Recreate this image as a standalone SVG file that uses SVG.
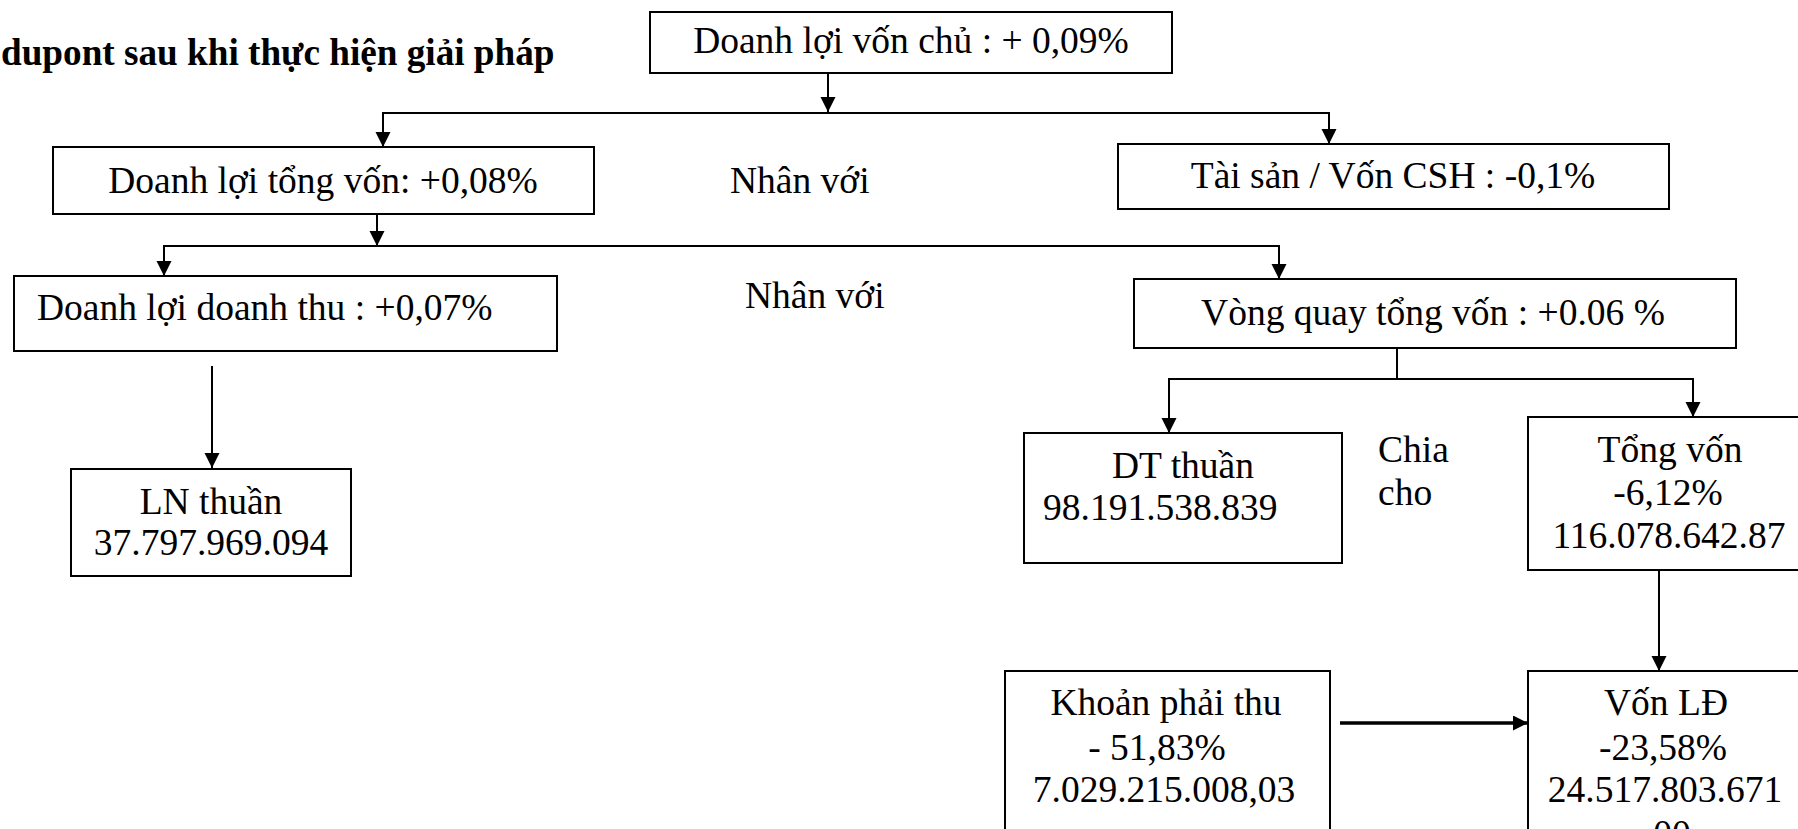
<svg xmlns="http://www.w3.org/2000/svg" width="1798" height="829" viewBox="0 0 1798 829">
  <defs>
    <style>
      .box { fill: #ffffff; stroke: #000000; stroke-width: 2; }
      .ln { fill: none; stroke: #000000; stroke-width: 2; }
      .ln-thick { fill: none; stroke: #000000; stroke-width: 3.5; }
      .t { font-family: "Liberation Serif", "Times New Roman", serif; font-size: 37.5px; fill: #000000; }
      .c { text-anchor: middle; }
      .title { font-family: "Liberation Serif", "Times New Roman", serif; font-size: 37.2px; font-weight: bold; fill: #000000; }
    </style>
    <marker id="arrow" markerUnits="userSpaceOnUse" markerWidth="16" markerHeight="16" refX="15" refY="7.5" orient="auto">
      <path d="M0,0 L15,7.5 L0,15 Z" fill="#000000"/>
    </marker>
  </defs>

  <rect width="1798" height="829" fill="#ffffff"/>

  <text class="title" x="1" y="65">dupont sau khi thực hiện giải pháp</text>

  <!-- connectors -->
  <g id="connectors">
    <line class="ln" x1="828" y1="73" x2="828" y2="112" marker-end="url(#arrow)"/>
    <line class="ln" x1="383" y1="113" x2="1330" y2="113"/>
    <line class="ln" x1="383" y1="112" x2="383" y2="147" marker-end="url(#arrow)"/>
    <line class="ln" x1="1329" y1="112" x2="1329" y2="144" marker-end="url(#arrow)"/>

    <line class="ln" x1="377" y1="214" x2="377" y2="246" marker-end="url(#arrow)"/>
    <line class="ln" x1="163" y1="246" x2="1280" y2="246"/>
    <line class="ln" x1="164" y1="245" x2="164" y2="276" marker-end="url(#arrow)"/>
    <line class="ln" x1="1279" y1="245" x2="1279" y2="279" marker-end="url(#arrow)"/>

    <line class="ln" x1="212" y1="366" x2="212" y2="468" marker-end="url(#arrow)"/>

    <line class="ln" x1="1397" y1="344" x2="1397" y2="379"/>
    <line class="ln" x1="1168" y1="379" x2="1694" y2="379"/>
    <line class="ln" x1="1169" y1="378" x2="1169" y2="433" marker-end="url(#arrow)"/>
    <line class="ln" x1="1693" y1="378" x2="1693" y2="417" marker-end="url(#arrow)"/>

    <line class="ln" x1="1659" y1="570" x2="1659" y2="671" marker-end="url(#arrow)"/>
    <line class="ln-thick" x1="1340" y1="723" x2="1528" y2="723" marker-end="url(#arrow)"/>
  </g>

  <!-- nodes -->
  <g id="node-doanh-loi-von-chu">
    <rect class="box" x="650" y="12" width="522" height="61"/>
    <text class="t c" x="911" y="53">Doanh lợi vốn chủ : + 0,09%</text>
  </g>

  <g id="node-doanh-loi-tong-von">
    <rect class="box" x="53" y="147" width="541" height="67"/>
    <text class="t c" x="323" y="193">Doanh lợi tổng vốn: +0,08%</text>
  </g>

  <g id="label-nhan-voi-1">
    <text class="t" x="730" y="193">Nhân với</text>
  </g>

  <g id="node-tai-san-von-csh">
    <rect class="box" x="1118" y="144" width="551" height="65"/>
    <text class="t c" x="1393" y="188">Tài sản / Vốn CSH : -0,1%</text>
  </g>

  <g id="node-doanh-loi-doanh-thu">
    <rect class="box" x="14" y="276" width="543" height="75"/>
    <text class="t" x="37" y="320">Doanh lợi doanh thu : +0,07%</text>
  </g>

  <g id="label-nhan-voi-2">
    <text class="t" x="745" y="308">Nhân với</text>
  </g>

  <g id="node-vong-quay-tong-von">
    <rect class="box" x="1134" y="279" width="602" height="69"/>
    <text class="t c" x="1433" y="325">Vòng quay tổng vốn : +0.06 %</text>
  </g>

  <g id="node-ln-thuan">
    <rect class="box" x="71" y="469" width="280" height="107"/>
    <text class="t c" x="211" y="514">LN thuần</text>
    <text class="t c" x="211" y="555">37.797.969.094</text>
  </g>

  <g id="node-dt-thuan">
    <rect class="box" x="1024" y="433" width="318" height="130"/>
    <text class="t" x="1112" y="478">DT thuần</text>
    <text class="t" x="1043" y="520">98.191.538.839</text>
  </g>

  <g id="label-chia-cho">
    <text class="t" x="1378" y="462">Chia</text>
    <text class="t" x="1378" y="505">cho</text>
  </g>

  <g id="node-tong-von">
    <rect class="box" x="1528" y="417" width="290" height="153"/>
    <text class="t c" x="1670" y="462">Tổng vốn</text>
    <text class="t c" x="1668" y="505">-6,12%</text>
    <text class="t c" x="1669" y="548">116.078.642.87</text>
  </g>

  <g id="node-khoan-phai-thu">
    <rect class="box" x="1005" y="671" width="325" height="180"/>
    <text class="t c" x="1166" y="715">Khoản phải thu</text>
    <text class="t c" x="1157" y="760">- 51,83%</text>
    <text class="t c" x="1164" y="802">7.029.215.008,03</text>
  </g>

  <g id="node-von-ld">
    <rect class="box" x="1528" y="671" width="290" height="180"/>
    <text class="t c" x="1666" y="715">Vốn LĐ</text>
    <text class="t c" x="1663" y="760">-23,58%</text>
    <text class="t c" x="1665" y="802">24.517.803.671</text>
    <text class="t c" x="1672" y="846">00</text>
  </g>
</svg>
